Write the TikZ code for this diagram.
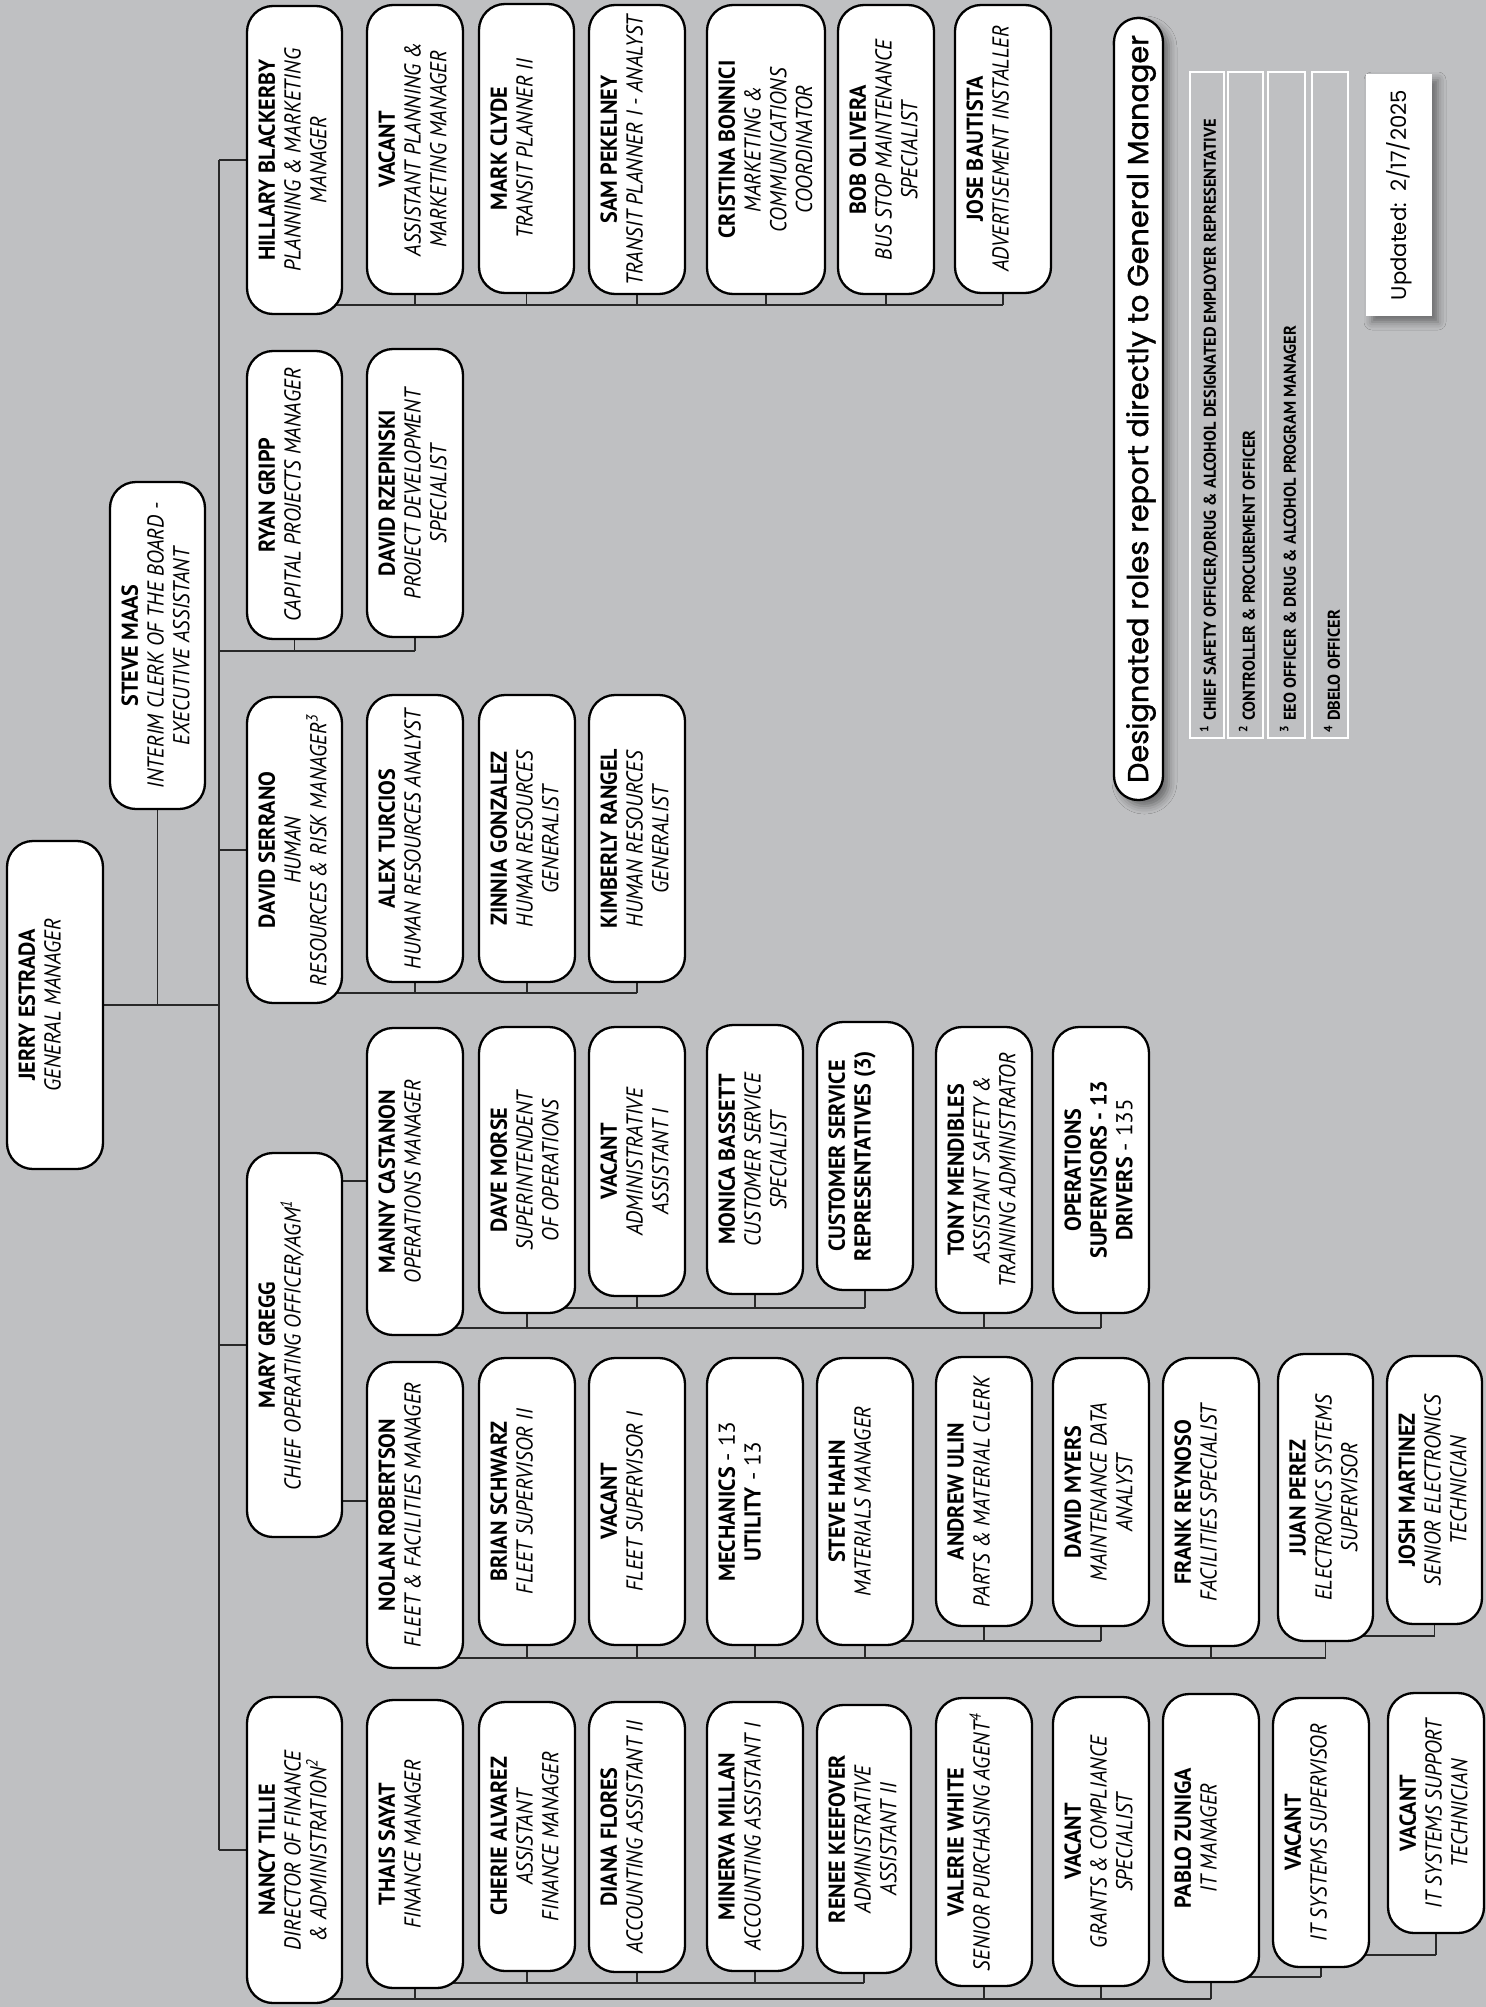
\documentclass[tikz,border=0pt]{standalone}
\usepackage{fontspec}
\usetikzlibrary{backgrounds,shadows.blur}
\newfontfamily\boxfont{PT Sans}[BoldFeatures={FakeStretch=0.96},ItalicFeatures={FakeStretch=0.91}]
\newfontfamily\geofont{Poppins}
\newfontfamily\geofontm{Poppins}[FakeBold=1.2]
\definecolor{bgc}{RGB}{191,192,194}
\definecolor{lnc}{RGB}{40,40,40}
\newcommand\pname[1]{\textbf{#1}}
\newcommand\ptitle[1]{\textit{#1}}
\newcommand\pers[6]{%
  \pgfmathsetmacro\pbw{(#4-#2)*0.5}%
  \pgfmathsetmacro\pbh{(#5-#3)*0.5}%
  \node[pbox, minimum width=\pbw pt, minimum height=\pbh pt] (#1) at ({(#2+#4)/2},{(#3+#5)/2}) {};
  \node[ptxt] (#1-t) at ({#2+11},{(#3+#5)/2}) {#6};
}
\begin{document}
\begin{tikzpicture}[x=0.5pt,y=-0.5pt,
  pbox/.style={draw=black, line width=1.15pt, fill=white, rounded corners=13pt, inner sep=0pt, outer sep=0pt},
  ptxt/.style={rotate=90, anchor=north, align=center, inner sep=0pt, font=\boxfont\fontsize{11.5}{12.9}\selectfont},
  conn/.style={draw=lnc, line width=0.75pt},
  strip/.style={draw=white, line width=1pt, inner sep=0pt, outer sep=0pt},
  fntxt/.style={rotate=90, anchor=west, inner sep=0pt, font=\boxfont\bfseries\fontsize{8.55}{10}\selectfont}]
\useasboundingbox (0,0) rectangle (1486,2007);

% ---- top level
\pers{jerry}{7}{841}{103}{1169}{\pname{JERRY ESTRADA}\\\ptitle{GENERAL MANAGER}}
\pers{steve}{110}{482}{205}{809}{\pname{STEVE MAAS}\\\ptitle{INTERIM CLERK OF THE BOARD -}\\\ptitle{EXECUTIVE ASSISTANT}}

% ---- planning & marketing
\pers{hillary}{247}{6}{342}{314}{\pname{HILLARY BLACKERBY}\\\ptitle{PLANNING \& MARKETING}\\\ptitle{MANAGER}}
\pers{vacapm}{367}{5}{463}{294}{\pname{VACANT}\\\ptitle{ASSISTANT PLANNING \&}\\\ptitle{MARKETING MANAGER}}
\pers{mark}{479}{4}{574}{293}{\pname{MARK CLYDE}\\\ptitle{TRANSIT PLANNER II}}
\pers{sam}{589}{5}{685}{294}{\pname{SAM PEKELNEY}\\\ptitle{TRANSIT PLANNER I - ANALYST}}
\pers{cristina}{707}{5}{825}{294}{\pname{CRISTINA BONNICI}\\\ptitle{MARKETING \&}\\\ptitle{COMMUNICATIONS}\\\ptitle{COORDINATOR}}
\pers{bob}{838}{5}{934}{294}{\pname{BOB OLIVERA}\\\ptitle{BUS STOP MAINTENANCE}\\\ptitle{SPECIALIST}}
\pers{jose}{955}{5}{1051}{293}{\pname{JOSE BAUTISTA}\\\ptitle{ADVERTISEMENT INSTALLER}}

% ---- capital projects
\pers{ryan}{247}{351}{342}{639}{\pname{RYAN GRIPP}\\\ptitle{CAPITAL PROJECTS MANAGER}}
\pers{rzep}{367}{349}{463}{637}{\pname{DAVID RZEPINSKI}\\\ptitle{PROJECT DEVELOPMENT}\\\ptitle{SPECIALIST}}

% ---- HR
\pers{serrano}{247}{697}{342}{1003}{\pname{DAVID SERRANO}\\\ptitle{HUMAN}\\\ptitle{RESOURCES \& RISK MANAGER\textsuperscript{3}}}
\pers{alex}{367}{695}{463}{982}{\pname{ALEX TURCIOS}\\\ptitle{HUMAN RESOURCES ANALYST}}
\pers{zinnia}{479}{695}{575}{982}{\pname{ZINNIA GONZALEZ}\\\ptitle{HUMAN RESOURCES}\\\ptitle{GENERALIST}}
\pers{kimberly}{589}{695}{685}{982}{\pname{KIMBERLY RANGEL}\\\ptitle{HUMAN RESOURCES}\\\ptitle{GENERALIST}}

% ---- operations
\pers{mary}{247}{1153}{342}{1537}{\pname{MARY GREGG}\\\ptitle{CHIEF OPERATING OFFICER/AGM\textsuperscript{1}}}
\pers{manny}{367}{1028}{463}{1335}{\pname{MANNY CASTANON}\\\ptitle{OPERATIONS MANAGER}}
\pers{dave}{479}{1027}{575}{1313}{\pname{DAVE MORSE}\\\ptitle{SUPERINTENDENT}\\\ptitle{OF OPERATIONS}}
\pers{vacadm}{589}{1027}{685}{1296}{\pname{VACANT}\\\ptitle{ADMINISTRATIVE}\\\ptitle{ASSISTANT I}}
\pers{monica}{707}{1025}{803}{1294}{\pname{MONICA BASSETT}\\\ptitle{CUSTOMER SERVICE}\\\ptitle{SPECIALIST}}
\pers{cust}{817}{1022}{913}{1290}{\pname{CUSTOMER SERVICE}\\\pname{REPRESENTATIVES (3)}}
\pers{tony}{936}{1027}{1032}{1313}{\pname{TONY MENDIBLES}\\\ptitle{ASSISTANT SAFETY \&}\\\ptitle{TRAINING ADMINISTRATOR}}
\pers{ops}{1053}{1027}{1149}{1313}{\pname{OPERATIONS}\\\pname{SUPERVISORS - 13}\\\pname{DRIVERS} - 135}

% ---- fleet
\pers{nolan}{367}{1362}{463}{1668}{\pname{NOLAN ROBERTSON}\\\ptitle{FLEET \& FACILITIES MANAGER}}
\pers{brian}{479}{1358}{575}{1645}{\pname{BRIAN SCHWARZ}\\\ptitle{FLEET SUPERVISOR II}}
\pers{vacfs}{589}{1358}{685}{1645}{\pname{VACANT}\\\ptitle{FLEET SUPERVISOR I}}
\pers{mech}{707}{1358}{803}{1645}{\pname{MECHANICS} - 13\\\pname{UTILITY} - 13}
\pers{hahn}{817}{1358}{913}{1645}{\pname{STEVE HAHN}\\\ptitle{MATERIALS MANAGER}}
\pers{andrew}{936}{1357}{1032}{1626}{\pname{ANDREW ULIN}\\\ptitle{PARTS \& MATERIAL CLERK}}
\pers{myers}{1053}{1358}{1149}{1626}{\pname{DAVID MYERS}\\\ptitle{MAINTENANCE DATA}\\\ptitle{ANALYST}}
\pers{frank}{1163}{1358}{1259}{1646}{\pname{FRANK REYNOSO}\\\ptitle{FACILITIES SPECIALIST}}
\pers{juan}{1278}{1354}{1373}{1641}{\pname{JUAN PEREZ}\\\ptitle{ELECTRONICS SYSTEMS}\\\ptitle{SUPERVISOR}}
\pers{josh}{1387}{1356}{1482}{1624}{\pname{JOSH MARTINEZ}\\\ptitle{SENIOR ELECTRONICS}\\\ptitle{TECHNICIAN}}

% ---- finance
\pers{nancy}{247}{1697}{342}{2003}{\pname{NANCY TILLIE}\\\ptitle{DIRECTOR OF FINANCE}\\\ptitle{\& ADMINISTRATION\textsuperscript{2}}}
\pers{thais}{367}{1700}{463}{1988}{\pname{THAIS SAYAT}\\\ptitle{FINANCE MANAGER}}
\pers{cherie}{479}{1702}{575}{1971}{\pname{CHERIE ALVAREZ}\\\ptitle{ASSISTANT}\\\ptitle{FINANCE MANAGER}}
\pers{diana}{589}{1702}{685}{1972}{\pname{DIANA FLORES}\\\ptitle{ACCOUNTING ASSISTANT II}}
\pers{minerva}{707}{1702}{803}{1971}{\pname{MINERVA MILLAN}\\\ptitle{ACCOUNTING ASSISTANT I}}
\pers{renee}{817}{1705}{911}{1973}{\pname{RENEE KEEFOVER}\\\ptitle{ADMINISTRATIVE}\\\ptitle{ASSISTANT II}}
\pers{valerie}{936}{1698}{1032}{1986}{\pname{VALERIE WHITE}\\\ptitle{SENIOR PURCHASING AGENT\textsuperscript{4}}}
\pers{grants}{1053}{1697}{1149}{1986}{\pname{VACANT}\\\ptitle{GRANTS \& COMPLIANCE}\\\ptitle{SPECIALIST}}
\pers{pablo}{1163}{1694}{1259}{1982}{\pname{PABLO ZUNIGA}\\\ptitle{IT MANAGER}}
\pers{itsup}{1273}{1698}{1369}{1967}{\pname{VACANT}\\\ptitle{IT SYSTEMS SUPERVISOR}}
\pers{ittech}{1388}{1693}{1484}{1933}{\pname{VACANT}\\\ptitle{IT SYSTEMS SUPPORT}\\\ptitle{TECHNICIAN}}

% ---- legend
\node[draw=black, line width=1.15pt, fill=white, rounded corners=12pt, inner sep=0pt,
      minimum width=24.5pt, minimum height=391pt,
      blur shadow={shadow xshift=3pt, shadow yshift=-3pt, shadow blur radius=4pt, shadow opacity=45}] (desig) at (1138.5,409) {};
\node[rotate=90, inner sep=0pt, font=\geofontm\fontsize{14.4}{16}\selectfont] (desig-t) at (1141,409) {Designated roles report directly to General Manager};

\node[strip, minimum width=17pt, minimum height=333pt] (fn1) at (1207,405) {};
\node[strip, minimum width=17.5pt, minimum height=333pt] (fn2) at (1245.5,405) {};
\node[strip, minimum width=18.5pt, minimum height=333pt] (fn3) at (1286.5,405) {};
\node[strip, minimum width=18pt, minimum height=333pt] (fn4) at (1330,405) {};
\node[fntxt] (fn1-t) at (1209,733) {\textsuperscript{1}\ CHIEF SAFETY OFFICER/DRUG \& ALCOHOL DESIGNATED EMPLOYER REPRESENTATIVE};
\node[fntxt] (fn2-t) at (1247,733) {\textsuperscript{2}\ CONTROLLER \& PROCUREMENT OFFICER};
\node[fntxt] (fn3-t) at (1288,733) {\textsuperscript{3}\ EEO OFFICER \& DRUG \& ALCOHOL PROGRAM MANAGER};
\node[fntxt] (fn4-t) at (1332,733) {\textsuperscript{4}\ DBELO OFFICER};

\node[fill=white, inner sep=0pt, minimum width=33pt, minimum height=121pt,
      blur shadow={shadow xshift=3pt, shadow yshift=-3pt, shadow blur radius=4pt, shadow opacity=45}] (upd) at (1399,195) {};
\node[rotate=90, inner sep=0pt, font=\geofont\fontsize{10.6}{12}\selectfont] (upd-t) at (upd) {Updated:\ \ 2/17/2025};

% ---- connectors (behind)
\coordinate (mb) at (219,0);
\coordinate (rb) at (219,651);
\coordinate (hb) at (0,305);
\coordinate (sb) at (0,993);
\coordinate (mm) at (0,1181);
\coordinate (mn) at (0,1501);
\coordinate (ob) at (0,1328);
\coordinate (db) at (0,1308);
\coordinate (nb) at (0,1658);
\coordinate (hhb) at (0,1641);
\coordinate (jb) at (0,1636);
\coordinate (fb) at (0,1999);
\coordinate (tb) at (0,1983);
\coordinate (pb) at (0,1977);
\coordinate (ib) at (0,1955);
\begin{pgfonlayer}{background}
\fill[bgc] (0,0) rectangle (1486,2007);
% main spine
\draw[conn] (mb |- hillary) -- (mb |- nancy);
\draw[conn] (jerry) -- (mb |- jerry);
\draw[conn] (steve) -- (steve |- jerry);
\foreach \c in {hillary,serrano,mary,nancy} \draw[conn] (\c) -- (mb |- \c);
% capital projects
\draw[conn] (rb) -- (rb -| rzep);
\foreach \c in {ryan,rzep} \draw[conn] (\c) -- (\c |- rb);
% planning
\draw[conn] (hillary |- hb) -- (jose |- hb);
\foreach \c in {vacapm,mark,sam,cristina,bob,jose} \draw[conn] (\c) -- (\c |- hb);
% HR
\draw[conn] (serrano |- sb) -- (kimberly |- sb);
\foreach \c in {alex,zinnia,kimberly} \draw[conn] (\c) -- (\c |- sb);
% operations
\draw[conn] (mary |- mm) -- (manny |- mm);
\draw[conn] (mary |- mn) -- (nolan |- mn);
\draw[conn] (manny |- ob) -- (ops |- ob);
\foreach \c in {dave,tony,ops} \draw[conn] (\c) -- (\c |- ob);
\draw[conn] (dave |- db) -- (cust |- db);
\foreach \c in {vacadm,monica,cust} \draw[conn] (\c) -- (\c |- db);
% fleet
\draw[conn] (nolan |- nb) -- (juan |- nb);
\foreach \c in {brian,vacfs,mech,hahn,frank,juan} \draw[conn] (\c) -- (\c |- nb);
\draw[conn] (hahn |- hhb) -- (myers |- hhb);
\foreach \c in {andrew,myers} \draw[conn] (\c) -- (\c |- hhb);
\draw[conn] (juan |- jb) -- (josh |- jb);
\draw[conn] (josh) -- (josh |- jb);
% finance
\draw[conn] (nancy |- fb) -- (pablo |- fb);
\foreach \c in {thais,valerie,grants,pablo} \draw[conn] (\c) -- (\c |- fb);
\draw[conn] (thais |- tb) -- (renee |- tb);
\foreach \c in {cherie,diana,minerva,renee} \draw[conn] (\c) -- (\c |- tb);
\draw[conn] (pablo |- pb) -- (itsup |- pb);
\draw[conn] (itsup) -- (itsup |- pb);
\draw[conn] (itsup |- ib) -- (ittech |- ib);
\draw[conn] (ittech) -- (ittech |- ib);
\end{pgfonlayer}
\end{tikzpicture}
\end{document}
